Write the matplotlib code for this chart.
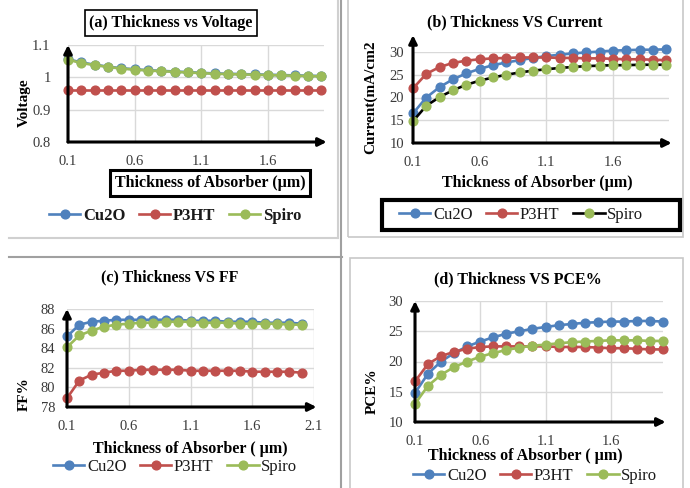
import matplotlib
matplotlib.use("Agg")
import matplotlib.pyplot as plt
from matplotlib.patches import Rectangle
from matplotlib.lines import Line2D

plt.rcParams['font.family'] = ['Liberation Serif', 'DejaVu Serif']

thickness = [0.1, 0.2, 0.3, 0.4, 0.5, 0.6, 0.7, 0.8, 0.9, 1.0,
             1.1, 1.2, 1.3, 1.4, 1.5, 1.6, 1.7, 1.8, 1.9, 2.0]

# (a) Voltage
voc_cu2o = [1.056, 1.046, 1.039, 1.033, 1.028, 1.025, 1.022, 1.020, 1.018, 1.016,
            1.014, 1.012, 1.011, 1.010, 1.009, 1.008, 1.007, 1.006, 1.005, 1.004]
voc_p3ht = [0.960] * 20
voc_spiro = [1.055, 1.044, 1.038, 1.032, 1.027, 1.024, 1.021, 1.019, 1.017, 1.015,
             1.013, 1.011, 1.010, 1.009, 1.008, 1.007, 1.006, 1.005, 1.004, 1.003]

# (b) Current
jsc_cu2o = [16.5, 20.0, 22.3, 24.0, 25.3, 26.3, 27.1, 27.7, 28.2, 28.7,
            29.1, 29.4, 29.7, 29.9, 30.1, 30.3, 30.4, 30.5, 30.5, 30.6]
jsc_p3ht = [22.0, 25.2, 26.7, 27.6, 28.1, 28.4, 28.6, 28.7, 28.8, 28.8,
            28.8, 28.7, 28.7, 28.6, 28.6, 28.5, 28.4, 28.4, 28.3, 28.2]
jsc_spiro = [14.8, 18.2, 20.1, 21.6, 22.8, 23.7, 24.4, 25.0, 25.5, 25.9,
             26.2, 26.5, 26.7, 26.9, 27.0, 27.1, 27.1, 27.2, 27.2, 27.2]

# (c) FF
ff_cu2o = [85.2, 86.4, 86.7, 86.8, 86.9, 86.9, 86.9, 86.9, 86.9, 86.9,
           86.8, 86.8, 86.8, 86.7, 86.7, 86.7, 86.6, 86.6, 86.6, 86.5]
ff_p3ht = [78.9, 80.7, 81.3, 81.5, 81.7, 81.7, 81.8, 81.8, 81.8, 81.8,
           81.7, 81.7, 81.7, 81.7, 81.7, 81.6, 81.6, 81.6, 81.6, 81.5]
ff_spiro = [84.1, 85.3, 85.8, 86.2, 86.4, 86.5, 86.6, 86.6, 86.7, 86.7,
            86.7, 86.6, 86.6, 86.6, 86.5, 86.5, 86.5, 86.5, 86.4, 86.4]

# (d) PCE
pce_cu2o = [14.8, 18.0, 20.0, 21.4, 22.5, 23.3, 24.0, 24.6, 25.0, 25.4,
            25.7, 26.0, 26.2, 26.4, 26.5, 26.6, 26.6, 26.7, 26.7, 26.6]
pce_p3ht = [16.7, 19.6, 20.9, 21.6, 22.1, 22.4, 22.5, 22.5, 22.5, 22.5,
            22.5, 22.4, 22.4, 22.4, 22.3, 22.2, 22.2, 22.1, 22.0, 22.0]
pce_spiro = [13.0, 16.0, 17.8, 19.1, 20.0, 20.8, 21.4, 21.9, 22.3, 22.6,
             22.8, 23.0, 23.2, 23.3, 23.4, 23.5, 23.5, 23.5, 23.4, 23.4]

labels = ["Cu2O", "P3HT", "Spiro"]
BLUE, RED, GREEN = "#4F81BD", "#C0504D", "#9BBB59"
TICKC = "#3a3a3a"

W, H = 690, 488
fig = plt.figure(figsize=(W / 100, H / 100), dpi=100)


def px_axes(x0, x1, ytop, ybot):
    return fig.add_axes([x0 / W, 1 - ybot / H, (x1 - x0) / W, (ybot - ytop) / H])


def fx(x):
    return x / W


def fy(y):
    return 1 - y / H


def style(ax, xlim, ylim, xticks, yticks, ypad, yarrow_top=None):
    ax.set_xlim(*xlim)
    ax.set_ylim(*ylim)
    ax.set_xticks(xticks)
    ax.set_yticks(yticks)
    for s in ax.spines.values():
        s.set_visible(False)
    ax.grid(True, color="#D9D9D9", linewidth=1.0)
    ax.set_axisbelow(True)
    ax.tick_params(length=0, labelsize=10.5, labelcolor=TICKC)
    ax.tick_params(axis="x", pad=9.5)
    ax.tick_params(axis="y", pad=ypad)
    ytop = ylim[1] if yarrow_top is None else yarrow_top
    ax.annotate("", xy=(xlim[0], ytop), xytext=(xlim[0], ylim[0]),
                arrowprops=dict(arrowstyle="-|>", color="black", lw=2.2,
                                mutation_scale=12, shrinkA=0, shrinkB=0),
                annotation_clip=False, zorder=5)
    ax.annotate("", xy=(xlim[1] + 0.02, ylim[0]), xytext=(xlim[0], ylim[0]),
                arrowprops=dict(arrowstyle="-|>", color="black", lw=2.2,
                                mutation_scale=12, shrinkA=0, shrinkB=0),
                annotation_clip=False, zorder=5)


def plot3(ax, a, b, c, spiro_line=GREEN):
    kw = dict(marker="o", markersize=6.3, linewidth=1.9, clip_on=False, zorder=3)
    ax.plot(thickness, a, color=BLUE, label=labels[0], **kw)
    ax.plot(thickness, b, color=RED, label=labels[1], **kw)
    ax.plot(thickness, c, color=spiro_line, markerfacecolor=GREEN,
            markeredgecolor=GREEN, label=labels[2], **kw)


def legend(ax, cx, cy, bold=False):
    leg = ax.legend(loc="center", bbox_to_anchor=(fx(cx), fy(cy)),
                    bbox_transform=fig.transFigure, ncol=3, frameon=False,
                    handlelength=1.9, columnspacing=0.8, handletextpad=0.15,
                    borderpad=0.3,
                    prop=dict(size=12, weight="bold" if bold else "normal"))
    for t in leg.get_texts():
        t.set_color("#1a1a1a")
    return leg


# ---------- panel borders ----------
fig.add_artist(Line2D([fx(9), fx(338)], [fy(238), fy(238)], color="#D0D0D0", lw=1.5))
fig.add_artist(Line2D([fx(338), fx(338)], [fy(0), fy(238)], color="#D0D0D0", lw=1.5))
fig.add_artist(Line2D([fx(9), fx(342)], [fy(257), fy(257)], color="#A0A0A0", lw=1.5))
fig.add_artist(Line2D([fx(341), fx(341)], [fy(0), fy(488)], color="#A0A0A0", lw=1.5))
fig.add_artist(Rectangle((fx(348), fy(237)), fx(683) - fx(348), fy(0) - fy(237) + 0.01,
                         fill=False, edgecolor="#C8C8C8", lw=1.2))
fig.add_artist(Rectangle((fx(350), fy(500)), fx(683) - fx(350), fy(258) - fy(500),
                         fill=False, edgecolor="#C8C8C8", lw=1.2))

# ---------- (a) ----------
axa = px_axes(68, 324, 45, 142)
plot3(axa, voc_cu2o, voc_p3ht, voc_spiro)
style(axa, (0.1, 2.02), (0.8, 1.1), [0.1, 0.6, 1.1, 1.6], [0.8, 0.9, 1.0, 1.1], 12.5)
axa.set_xticklabels(["0.1", "0.6", "1.1", "1.6"])
axa.set_yticklabels(["0.8", "0.9", "1", "1.1"])
fig.text(fx(24), fy(103), "Voltage", rotation=90, ha="center", va="center",
         fontsize=11, fontweight="bold")
fig.text(fx(171), fy(23), "(a) Thickness vs Voltage", ha="center", va="center",
         fontsize=11.5, fontweight="bold",
         bbox=dict(boxstyle="square,pad=0.3", facecolor="white", edgecolor="black", lw=1.2))
fig.text(fx(210), fy(183), "Thickness of Absorber (µm)", ha="center", va="center",
         fontsize=11.5, fontweight="bold",
         bbox=dict(boxstyle="square,pad=0.3", facecolor="white", edgecolor="black", lw=2.2))
legend(axa, 175, 216, bold=True)

# ---------- (b) ----------
axb = px_axes(413, 669, 52, 143)
plot3(axb, jsc_cu2o, jsc_p3ht, jsc_spiro, spiro_line="black")
style(axb, (0.1, 2.02), (10, 30), [0.1, 0.6, 1.1, 1.6], [10, 15, 20, 25, 30], 6.5,
      yarrow_top=33.7)
axb.set_xticklabels(["0.1", "0.6", "1.1", "1.6"])
fig.text(fx(371), fy(97), "Current(mA/cm2", rotation=90, ha="center", va="center",
         fontsize=11, fontweight="bold")
fig.text(fx(515), fy(22), "(b) Thickness VS Current", ha="center", va="center",
         fontsize=11.5, fontweight="bold")
fig.text(fx(537), fy(183), "Thickness of Absorber (µm)", ha="center", va="center",
         fontsize=11.5, fontweight="bold")
fig.add_artist(Rectangle((fx(382), fy(230)), fx(680) - fx(382), fy(200) - fy(230),
                         fill=False, edgecolor="black", lw=3))
legend(axb, 521, 215)

# ---------- (c) ----------
axc = px_axes(67, 314, 309, 407)
plot3(axc, ff_cu2o, ff_p3ht, ff_spiro)
style(axc, (0.1, 2.1), (78, 88), [0.1, 0.6, 1.1, 1.6, 2.1], [78, 80, 82, 84, 86, 88], 8.5)
axc.set_xticklabels(["0.1", "0.6", "1.1", "1.6", "2.1"])
fig.text(fx(24), fy(394), "FF%", rotation=90, ha="center", va="center",
         fontsize=11, fontweight="bold")
fig.text(fx(170), fy(277), "(c) Thickness VS FF", ha="center", va="center",
         fontsize=11.5, fontweight="bold")
fig.text(fx(190), fy(449), "Thickness of Absorber ( µm)", ha="center", va="center",
         fontsize=11.5, fontweight="bold")
legend(axc, 175, 467)

# ---------- (d) ----------
axd = px_axes(415, 663, 301, 422)
plot3(axd, pce_cu2o, pce_p3ht, pce_spiro)
style(axd, (0.1, 2.0), (10, 30), [0.1, 0.6, 1.1, 1.6], [10, 15, 20, 25, 30], 8.5)
axd.set_xticklabels(["0.1", "0.6", "1.1", "1.6"])
fig.text(fx(372), fy(391), "PCE%", rotation=90, ha="center", va="center",
         fontsize=11, fontweight="bold")
fig.text(fx(518), fy(279), "(d) Thickness VS PCE%", ha="center", va="center",
         fontsize=11.5, fontweight="bold")
fig.text(fx(525), fy(456), "Thickness of Absorber ( µm)", ha="center", va="center",
         fontsize=11.5, fontweight="bold")
legend(axd, 535, 476)

fig.savefig("out.png", dpi=100, facecolor="white")
